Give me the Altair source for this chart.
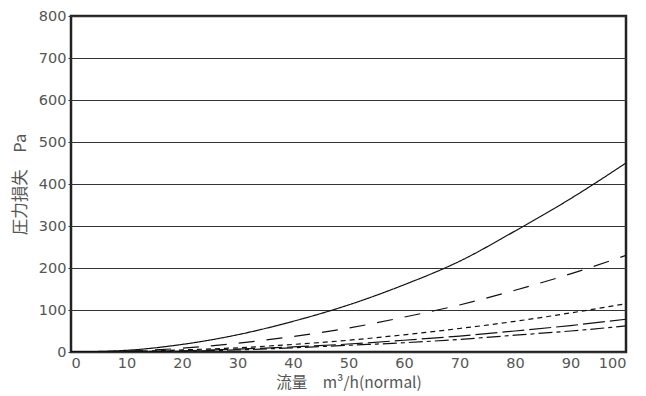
import altair as alt
import pandas as pd

flow = [0, 10, 20, 30, 40, 50, 60, 70, 80, 90, 100]
s_solid = [0, 4, 18, 41, 73, 112, 160, 216, 288, 365, 450]
s_longdash = [0, 2, 9, 21, 37, 57, 83, 112, 147, 186, 230]
s_shortdash = [0, 1, 5, 10, 18, 28, 41, 56, 73, 93, 115]
s_longdash2 = [0, 1, 3, 7, 12, 19, 28, 38, 50, 63, 78]
s_dashdot = [0, 1, 2, 5, 10, 16, 22, 30, 40, 50, 62]

series = [
    ("a", s_solid, [1, 0]),
    ("b", s_longdash, [16, 12]),
    ("c", s_shortdash, [5, 4]),
    ("d", s_longdash2, [22, 5]),
    ("e", s_dashdot, [14, 4, 4, 4]),
]

font = "DejaVu Sans"
tfont = "Noto Sans CJK JP"
x_scale = alt.Scale(domain=[0, 100], nice=False)
y_scale = alt.Scale(domain=[0, 800], nice=False)

layers = []
first = True
for name, vals, dash in series:
    df = pd.DataFrame({"flow": flow, "p": vals})
    if first:
        xenc = alt.X("flow:Q", scale=x_scale,
                     axis=alt.Axis(title="流量　m³/h(normal)", values=list(range(0, 101, 10)),
                                   grid=False, ticks=False, domain=False,
                                   labelFont=font, labelFontSize=14.5, labelColor="#555",
                                   labelPadding=4, titleFont=tfont, titleFontSize=15.5,
                                   titleColor="#555", titleFontWeight="normal", titlePadding=6))
        yenc = alt.Y("p:Q", scale=y_scale,
                     axis=alt.Axis(title="圧力損失　Pa", values=list(range(0, 801, 100)),
                                   grid=True, gridColor="#333", gridWidth=1,
                                   ticks=True, tickSize=3, tickColor="#333", domain=False,
                                   labelFont=font, labelFontSize=14.5, labelColor="#555",
                                   labelPadding=2, titleFont=tfont, titleFontSize=16.5,
                                   titleColor="#555", titleFontWeight="normal", titlePadding=10))
        first = False
    else:
        xenc = alt.X("flow:Q", scale=x_scale)
        yenc = alt.Y("p:Q", scale=y_scale)
    layers.append(
        alt.Chart(df).mark_line(color="#111", strokeWidth=1.2, strokeDash=dash,
                                interpolate="monotone", clip=True)
        .encode(x=xenc, y=yenc)
    )

chart = alt.layer(*layers).properties(
    width=555, height=336,
    background="white",
    autosize=alt.AutoSizeParams(type="none"),
    padding={"left": 63, "top": 8, "right": 12, "bottom": 40},
).configure_view(stroke="#222", strokeWidth=2.5)

chart.save("out.html", embed_options={"renderer": "svg", "actions": False})
